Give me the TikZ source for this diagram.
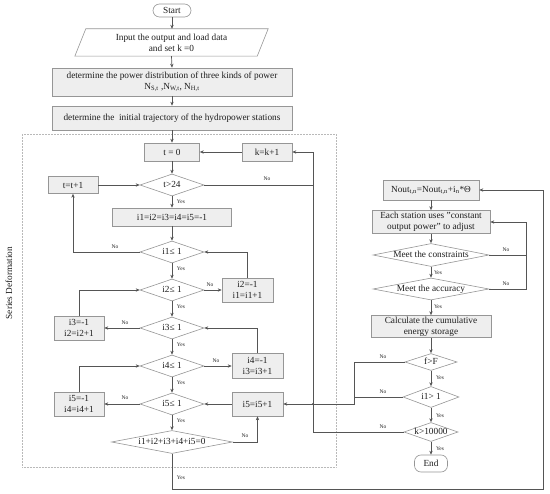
\documentclass[tikz,border=0pt]{standalone}
\usepackage{fontspec}
\setmainfont{Liberation Serif}
\usetikzlibrary{arrows.meta,shapes.geometric,calc,shadows}
\definecolor{bc}{RGB}{150,150,150}
\definecolor{bf}{RGB}{238,238,238}
\definecolor{lc}{RGB}{85,85,85}
\definecolor{tc}{RGB}{30,30,30}
\definecolor{fc}{RGB}{185,185,185}
\newcommand\dtx[1]{\smash{\makebox[0pt]{\raisebox{-0.32em}{#1}}}}
\begin{document}
\begin{tikzpicture}[x=1pt,y=-1pt,
  font=\fontsize{9.3}{11}\selectfont, text=tc,
  pbox/.style={draw=bc, line width=0.6pt, fill=bf, inner sep=1pt, align=center,
    drop shadow={shadow xshift=0.8pt,shadow yshift=-0.8pt,fill=black!22}},
  dia/.style={shape=diamond, draw=bc, line width=0.6pt, fill=white, inner sep=0pt},
  term/.style={draw=bc, line width=0.6pt, fill=white, rounded corners=6.5pt, inner sep=0pt},
  conn/.style={draw=lc, line width=0.7pt},
  arr/.style={conn, -{Stealth[length=4pt,width=3.4pt]}},
  lab/.style={font=\fontsize{5.5}{6}\selectfont, text=tc, inner sep=0pt}]
\useasboundingbox (0,0) rectangle (550,494);

% dotted frame
\draw[fc, line width=0.45pt, dash pattern=on 0.5pt off 1pt] (22,134) rectangle (336,467);
\node[rotate=90] (sd) at (9,283) {Series Deformation};

% top column
\node[term, minimum width=38pt, minimum height=13pt] (start) at (172,10.5) {Start};
\node[minimum width=182pt, minimum height=27pt, inner sep=0pt, align=center] (inp) at (171.5,42.5) {Input the output and load data\\and set k =0};
\draw[draw=bc, line width=0.6pt, fill=white] ([xshift=-5.5pt]inp.south west) -- ([xshift=-5.5pt]inp.south east) -- ([xshift=5.5pt]inp.north east) -- ([xshift=5.5pt]inp.north west) -- cycle;
\node[align=center] at (inp) {Input the output and load data\\and set k =0};
\node[pbox, minimum width=240pt, minimum height=28pt] (dist) at (172,82) {determine the power distribution of three kinds of power\\N\textsubscript{S,t} ,N\textsubscript{W,t}, N\textsubscript{H,t}};
\node[pbox, minimum width=240pt, minimum height=24pt] (traj) at (172,118) {determine the \ initial trajectory of the hydropower stations};

% loop structure
\node[pbox, minimum width=55pt, minimum height=18pt] (t0) at (172,152) {t = 0};
\node[pbox, minimum width=50pt, minimum height=18pt] (kk) at (267,152) {k=k+1};
\node[dia, minimum width=64pt, minimum height=22pt] (t24) at (172,185) {\dtx{t>24}};
\node[pbox, minimum width=50pt, minimum height=17pt] (tt) at (73,185) {t=t+1};
\node[pbox, minimum width=119pt, minimum height=18pt] (ini) at (172,217) {i1=i2=i3=i4=i5=-1};
\node[dia, minimum width=64pt, minimum height=22pt] (d1) at (172,252) {\dtx{i1≤ 1}};
\node[dia, minimum width=64pt, minimum height=22pt] (d2) at (172,290) {\dtx{i2≤ 1}};
\node[pbox, minimum width=51pt, minimum height=24pt] (b2) at (247.5,290) {i2=-1\\i1=i1+1};
\node[dia, minimum width=64pt, minimum height=22pt] (d3) at (172,328) {\dtx{i3≤ 1}};
\node[pbox, minimum width=50pt, minimum height=24pt] (b3) at (79,328) {i3=-1\\i2=i2+1};
\node[dia, minimum width=64pt, minimum height=22pt] (d4) at (172,366) {\dtx{i4≤ 1}};
\node[pbox, minimum width=51pt, minimum height=25pt] (b4) at (257.5,366) {i4=-1\\i3=i3+1};
\node[dia, minimum width=64pt, minimum height=22pt] (d5) at (172,404) {\dtx{i5≤ 1}};
\node[pbox, minimum width=50pt, minimum height=24pt] (b5l) at (79,404) {i5=-1\\i4=i4+1};
\node[pbox, minimum width=51pt, minimum height=24pt] (b5r) at (257.5,404) {i5=i5+1};
\node[dia, minimum width=121pt, minimum height=23pt] (dsum) at (172,442) {\dtx{i1+i2+i3+i4+i5=0}};

% right column
\node[pbox, minimum width=96pt, minimum height=20pt] (nout) at (431,190) {Nout\textsubscript{t,n}=Nout\textsubscript{t,n}+i\textsubscript{n}*Θ};
\node[pbox, minimum width=118pt, minimum height=23pt] (each) at (431,222) {Each station uses "constant\\output power" to adjust};
\node[dia, minimum width=116pt, minimum height=23pt] (dc) at (431,255) {\dtx{Meet the constraints}};
\node[dia, minimum width=116pt, minimum height=22pt] (da) at (431,289) {\dtx{Meet the accuracy}};
\node[pbox, minimum width=120pt, minimum height=22pt] (calc) at (431,326.5) {Calculate the cumulative\\energy storage};
\node[dia, minimum width=52pt, minimum height=17pt] (df) at (431,362) {\dtx{f>F}};
\node[dia, minimum width=56pt, minimum height=21pt] (di) at (431,397) {\dtx{i1> 1}};
\node[dia, minimum width=54pt, minimum height=19pt] (dk) at (431,432) {\dtx{k>10000}};
\node[term, minimum width=33pt, minimum height=17pt] (endn) at (431,463.5) {End};

% helper coordinates
\coordinate (vx) at (313,0);
\coordinate (mx) at (354,0);
\coordinate (rx) at (526,0);
\coordinate (rc) at (543,489);

% main flow
\draw[arr] (start.south) -- (start.south |- inp.north);
\draw[arr] (inp.south) -- (dist.north);
\draw[arr] (dist) -- (traj);
\draw[arr] (traj) -- (t0);
\draw[arr] (t0) -- (t24);
\draw[arr] (t24) -- (ini);
\draw[arr] (ini) -- (d1);
\draw[arr] (d1) -- (d2);
\draw[arr] (d2) -- (d3);
\draw[arr] (d3) -- (d4);
\draw[arr] (d4) -- (d5);
\draw[arr] (d5) -- (dsum);
\draw[arr] (kk) -- (t0);
\draw[arr] (tt) -- (t24);
\draw[conn] (t24.east) -- (t24.east -| vx);
\draw[arr] (d1.west) -| (tt.south);
\draw[arr] (d2.east) -- (b2.west);
\draw[arr] (b2.north) |- (d1.east);
\draw[arr] (d3.west) -- (b3.east);
\draw[arr] (b3.north) |- (d2.west);
\draw[arr] (d4.east) -- (b4.west);
\draw[arr] (b4.north) |- (d3.east);
\draw[arr] (d5.west) -- (b5l.east);
\draw[arr] (b5l.north) |- (d4.west);
\draw[arr] (b5r) -- (d5);
\draw[arr] (dsum.east) -| (b5r.south);
\draw[arr] (dsum.south) |- (rc) |- (nout.east);

% right flow
\draw[arr] (nout) -- (each);
\draw[arr] (each) -- (dc);
\draw[arr] (dc) -- (da);
\draw[arr] (da) -- (calc);
\draw[arr] (calc) -- (df);
\draw[arr] (df) -- (di);
\draw[arr] (di) -- (dk);
\draw[arr] (dk) -- (endn);
\draw[arr] (dc.east) -| (rx |- each) -- (each.east);
\draw[conn] (da.east) -| (rx |- dc);
\draw[arr] (df.west) -| (mx |- b5r) -- (b5r.east);
\draw[conn] (di.west) -- (di.west -| mx);
\draw[arr] (dk.west) -| (vx |- kk) -- (kk.east);
\fill[lc] (vx |- b5r) circle (1.1pt);

% labels
\node[lab] at (267,179) {No};
\node[lab] at (181,202) {Yes};
\node[lab] at (115,247) {No};
\node[lab] at (181,269) {Yes};
\node[lab] at (210,285) {No};
\node[lab] at (181,307) {Yes};
\node[lab] at (125,323) {No};
\node[lab] at (181,345) {Yes};
\node[lab] at (216,361) {No};
\node[lab] at (181,383) {Yes};
\node[lab] at (125,398) {No};
\node[lab] at (181,421) {Yes};
\node[lab] at (245,436) {No};
\node[lab] at (181,478) {Yes};
\node[lab] at (506,250) {No};
\node[lab] at (438,273) {Yes};
\node[lab] at (506,284) {No};
\node[lab] at (438,307) {Yes};
\node[lab] at (383,357) {No};
\node[lab] at (440,378) {Yes};
\node[lab] at (383,392) {No};
\node[lab] at (440,416) {Yes};
\node[lab] at (383,427) {No};
\node[lab] at (440,449) {Yes};
\end{tikzpicture}
\end{document}
